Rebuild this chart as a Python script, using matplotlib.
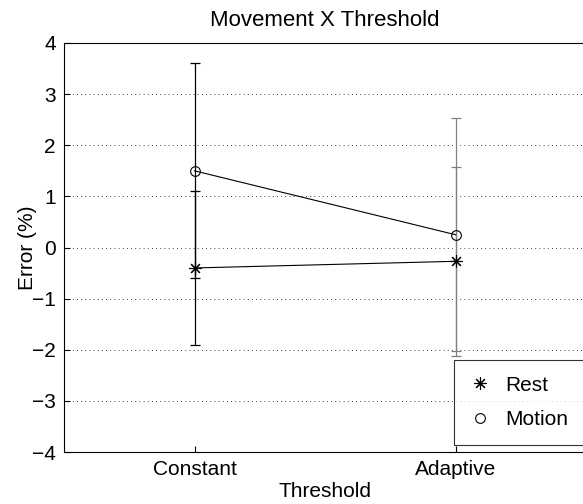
import numpy as np
import matplotlib
matplotlib.use('Agg')
from matplotlib import pyplot as plt

plt.rcParams['font.family'] = ['Liberation Sans', 'DejaVu Sans']

# datos: error medio y desvio por umbral
umbrales = ['Constant', 'Adaptive']
rest_media = [-0.40, -0.27]
rest_desvio = [1.50, 1.85]
motion_media = [1.50, 0.25]
motion_desvio = [2.10, 2.28]
color_barras = ['black', '#808080']

fig = plt.figure(figsize=(5.83, 5.04), dpi=100)
ax = fig.add_axes([64/583, 1 - 452/504, 522/583, 409/504])

x = np.arange(1, len(umbrales) + 1)

# barras de error, una por punto
for i in range(len(x)):
  ax.errorbar(x[i], rest_media[i], yerr=rest_desvio[i], fmt='none',
              ecolor=color_barras[i], elinewidth=0.9, capsize=3.5, capthick=0.9)
  ax.errorbar(x[i], motion_media[i], yerr=motion_desvio[i], fmt='none',
              ecolor=color_barras[i], elinewidth=0.9, capsize=3.5, capthick=0.9)

ax.plot(x, rest_media, color='black', linewidth=0.8, marker=(8, 2, 0),
        markersize=9, markeredgewidth=0.8, label='Rest')
ax.plot(x, motion_media, color='black', linewidth=0.8, marker='o',
        markersize=7, markerfacecolor='none', markeredgewidth=0.8, label='Motion')

ax.set_xlim(0.5, 2.5)
ax.set_ylim(-4, 4)
ax.set_xticks(x)
ax.set_xticklabels(umbrales)
ax.set_yticks(range(-4, 5))
ax.set_yticklabels([str(v).replace('-', '\u2212') for v in range(-4, 5)])
ax.tick_params(direction='in', length=4, labelsize=15, width=0.8)
ax.tick_params(axis='y', pad=6)
ax.tick_params(axis='x', pad=6)
ax.yaxis.grid(True, linestyle=(0, (1, 4)), color='black', linewidth=0.6)
for s in ax.spines.values():
  s.set_linewidth(0.8)

ax.set_title('Movement X Threshold', fontsize=16, pad=12)
ax.set_xlabel('Threshold', fontsize=15, labelpad=2)
ax.set_ylabel('Error (%)', fontsize=15, labelpad=-4)

leg = ax.legend(loc='upper left', bbox_to_anchor=(454/583, 1 - 442/504, 132/583, 82/504),
                bbox_transform=fig.transFigure, mode='expand', fontsize=15,
                frameon=True, fancybox=False, edgecolor='black', handlelength=1.0,
                handletextpad=0.7, borderaxespad=0, borderpad=0.75, labelspacing=0.75)
leg.get_frame().set_linewidth(0.8)
for h in leg.get_lines():
  h.set_linestyle('none')

fig.savefig('out.png', dpi=100)
